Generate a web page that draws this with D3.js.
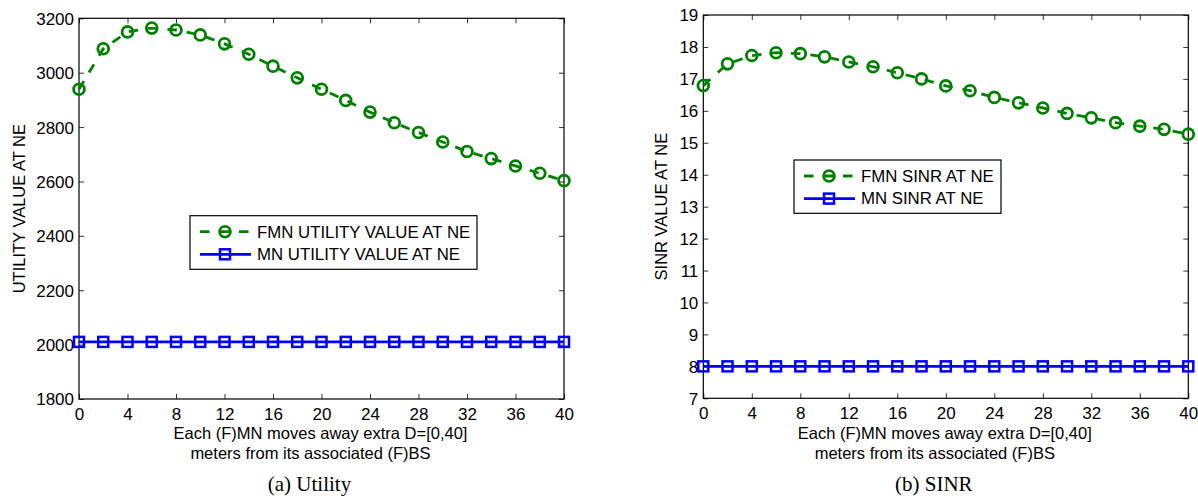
<!DOCTYPE html>
<html>
<head>
<meta charset="utf-8">
<script src="https://cdn.jsdelivr.net/npm/d3@7"></script>
<style>
  html, body { margin: 0; padding: 0; background: #fff; }
  svg { display: block; }
  text { font-family: "Liberation Sans", Arial, Helvetica, sans-serif; fill: #000; }
  .caption { font-family: "Liberation Serif", "Times New Roman", serif; }
</style>
</head>
<body>
<svg id="chart" width="1198" height="498"></svg>
<script>
// ---------- data ----------
const xValues = [0, 2, 4, 6, 8, 10, 12, 14, 16, 18, 20, 22, 24, 26, 28, 30, 32, 34, 36, 38, 40];
const xTicks = [0, 4, 8, 12, 16, 20, 24, 28, 32, 36, 40];

const fmnUtility = [2939, 3088, 3150, 3164, 3157, 3139, 3106, 3068, 3024, 2981, 2939,
                    2898, 2855, 2816, 2780, 2745, 2710, 2684, 2657, 2630, 2603];
const mnUtility = [2010, 2010, 2010, 2010, 2010, 2010, 2010, 2010, 2010, 2010, 2010,
                   2010, 2010, 2010, 2010, 2010, 2010, 2010, 2010, 2010, 2010];
const utilityTicks = [1800, 2000, 2200, 2400, 2600, 2800, 3000, 3200];

const fmnSinr = [16.79, 17.47, 17.73, 17.82, 17.79, 17.69, 17.53, 17.38, 17.19, 17.00, 16.78,
                 16.63, 16.42, 16.25, 16.09, 15.92, 15.78, 15.63, 15.52, 15.42, 15.27];
const mnSinr = [8, 8, 8, 8, 8, 8, 8, 8, 8, 8, 8, 8, 8, 8, 8, 8, 8, 8, 8, 8, 8];
const sinrTicks = [7, 8, 9, 10, 11, 12, 13, 14, 15, 16, 17, 18, 19];

const panels = [
  {
    left: 79, right: 564, top: 18.3, bottom: 399,
    yDomain: [1800, 3200], yTicks: utilityTicks,
    fmn: fmnUtility, mn: mnUtility,
    yLabel: "UTILITY VALUE AT NE", yLabelX: 25,
    legend: { x: 190, y: 215.7, w: 287, h: 53.6 },
    fmnName: "FMN UTILITY VALUE AT NE", mnName: "MN UTILITY VALUE AT NE",
    caption: "(a) Utility"
  },
  {
    left: 703.3, right: 1188.3, top: 15, bottom: 398.3,
    yDomain: [7, 19], yTicks: sinrTicks,
    fmn: fmnSinr, mn: mnSinr,
    yLabel: "SINR VALUE AT NE", yLabelX: 667,
    legend: { x: 794, y: 160, w: 207, h: 53.3 },
    fmnName: "FMN SINR AT NE", mnName: "MN SINR AT NE",
    caption: "(b) SINR"
  }
];

const GREEN = "#008000";
const BLUE = "#0000ff";
const DASH = "9.5,10";
const LW = 2.8;

const svg = d3.select("#chart");

panels.forEach(p => {
  const x = d3.scaleLinear().domain([0, 40]).range([p.left, p.right]);
  const y = d3.scaleLinear().domain(p.yDomain).range([p.bottom, p.top]);
  const g = svg.append("g");
  const fmt = d3.format("d");

  // axes (ticks pointing inward, MATLAB style)
  const fs = "17px";
  const bottomAxis = g.append("g").attr("transform", `translate(0,${p.bottom})`)
    .call(d3.axisBottom(x).tickValues(xTicks).tickFormat(fmt).tickSizeInner(-5).tickSizeOuter(0));
  const topAxis = g.append("g").attr("transform", `translate(0,${p.top})`)
    .call(d3.axisTop(x).tickValues(xTicks).tickSizeInner(-5).tickSizeOuter(0).tickFormat(""));
  const leftAxis = g.append("g").attr("transform", `translate(${p.left},0)`)
    .call(d3.axisLeft(y).tickValues(p.yTicks).tickFormat(fmt).tickSizeInner(-5).tickSizeOuter(0));
  const rightAxis = g.append("g").attr("transform", `translate(${p.right},0)`)
    .call(d3.axisRight(y).tickValues(p.yTicks).tickSizeInner(-5).tickSizeOuter(0).tickFormat(""));

  [bottomAxis, topAxis, leftAxis, rightAxis].forEach(a => {
    a.select(".domain").remove();
    a.selectAll(".tick line").attr("stroke", "#333").attr("stroke-width", 1);
    a.selectAll(".tick text").style("font-size", fs)
      .style("font-family", '"Liberation Sans", Arial, sans-serif').attr("fill", "#000");
  });
  bottomAxis.selectAll(".tick text").attr("dy", null).attr("y", 21);
  leftAxis.selectAll(".tick text").attr("x", -5).attr("dy", "0.35em");

  // box
  g.append("rect")
    .attr("x", p.left).attr("y", p.top)
    .attr("width", p.right - p.left).attr("height", p.bottom - p.top)
    .attr("fill", "none").attr("stroke", "#000").attr("stroke-width", 1.2);

  // lines
  const lineF = d3.line().x((d, i) => x(xValues[i])).y(d => y(d));
  g.append("path").datum(p.mn).attr("d", lineF)
    .attr("fill", "none").attr("stroke", BLUE).attr("stroke-width", LW);
  g.selectAll(".sq").data(p.mn).enter().append("rect")
    .attr("x", (d, i) => x(xValues[i]) - 5).attr("y", d => y(d) - 5)
    .attr("width", 10).attr("height", 10)
    .attr("fill", "none").attr("stroke", BLUE).attr("stroke-width", 2.5);

  g.append("path").datum(p.fmn).attr("d", lineF)
    .attr("fill", "none").attr("stroke", GREEN).attr("stroke-width", LW)
    .attr("stroke-dasharray", DASH);
  g.selectAll(".ci").data(p.fmn).enter().append("circle")
    .attr("cx", (d, i) => x(xValues[i])).attr("cy", d => y(d)).attr("r", 5.4)
    .attr("fill", "none").attr("stroke", GREEN).attr("stroke-width", 2.8);

  // y label
  const cy = (p.top + p.bottom) / 2;
  g.append("text")
    .attr("transform", `translate(${p.yLabelX},${cy}) rotate(-90)`)
    .attr("text-anchor", "middle").style("font-size", "16.5px")
    .text(p.yLabel);

  // x label (two lines) + caption
  const cx = (p.left + p.right) / 2;
  g.append("text").attr("x", cx - 1).attr("y", 439).attr("text-anchor", "middle")
    .style("font-size", "16.5px").text("Each (F)MN moves away extra D=[0,40]");
  g.append("text").attr("x", cx - 11).attr("y", 459).attr("text-anchor", "middle")
    .style("font-size", "16.5px").text("meters from its associated (F)BS");
  g.append("text").attr("class", "caption").attr("x", cx - 12).attr("y", 491)
    .attr("text-anchor", "middle").style("font-size", "21px").text(p.caption);

  // legend
  const L = p.legend;
  const lg = g.append("g");
  lg.append("rect").attr("x", L.x).attr("y", L.y).attr("width", L.w).attr("height", L.h)
    .attr("fill", "#fff").attr("stroke", "#000").attr("stroke-width", 1.2);
  const r1 = L.y + 16, r2 = L.y + 38.6;
  const lx0 = L.x + 10, lx1 = L.x + 60, mx = L.x + 35;
  lg.append("line").attr("x1", lx0).attr("x2", lx1).attr("y1", r1).attr("y2", r1)
    .attr("stroke", GREEN).attr("stroke-width", LW).attr("stroke-dasharray", DASH);
  lg.append("circle").attr("cx", mx).attr("cy", r1).attr("r", 5.4)
    .attr("fill", "none").attr("stroke", GREEN).attr("stroke-width", 2.8);
  lg.append("text").attr("x", L.x + 67).attr("y", r1).attr("dy", "0.35em")
    .style("font-size", "16.8px").text(p.fmnName);
  lg.append("line").attr("x1", lx0).attr("x2", lx1 + 1).attr("y1", r2).attr("y2", r2)
    .attr("stroke", BLUE).attr("stroke-width", LW);
  lg.append("rect").attr("x", mx - 5).attr("y", r2 - 5).attr("width", 10).attr("height", 10)
    .attr("fill", "none").attr("stroke", BLUE).attr("stroke-width", 2.5);
  lg.append("text").attr("x", L.x + 67).attr("y", r2).attr("dy", "0.35em")
    .style("font-size", "16.8px").text(p.mnName);
});
</script>
</body>
</html>
